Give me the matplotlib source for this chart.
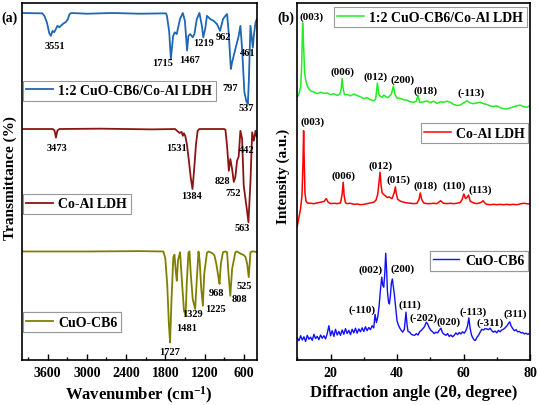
import matplotlib
matplotlib.use("Agg")
import matplotlib.pyplot as plt
from matplotlib.ticker import MultipleLocator

plt.rcParams["font.family"] = ["Liberation Serif", "DejaVu Serif"]
plt.rcParams["font.weight"] = "bold"
plt.rcParams["axes.labelweight"] = "bold"
plt.rcParams["mathtext.fontset"] = "custom"
plt.rcParams["mathtext.rm"] = "Liberation Serif:bold"
plt.rcParams["mathtext.bf"] = "Liberation Serif:bold"
plt.rcParams["mathtext.default"] = "rm"

# ── (a) FTIR spectra (stacked, transmittance in %) ───────────────────
hyb_wn = [4000, 3680, 3650, 3610, 3575, 3551, 3525, 3500, 3450, 3420, 3370,
          3320, 3290, 3265, 3235, 3000, 2600, 2200, 1790, 1775, 1740, 1715,
          1680, 1655, 1625, 1575, 1532, 1500, 1467, 1446, 1420, 1380, 1355,
          1318, 1278, 1240, 1219, 1190, 1163, 1112, 1060, 1010, 962, 917,
          881, 855, 830, 797, 778, 728, 677, 651, 624, 590, 560, 537, 522,
          497, 461, 446, 420, 400]
hyb_t = [97.2, 97.1, 96.4, 94.5, 91.5, 90.8, 92.2, 91.8, 93.6, 93.2, 94.1,
         94.7, 95.5, 96.9, 97.2, 97.0, 97.2, 97.0, 97.1, 96.4, 91.9, 84.3,
         90.8, 91.8, 91.3, 95.5, 97.2, 95.0, 86.7, 90.8, 91.3, 90.4, 91.3,
         95.5, 97.2, 93.6, 90.4, 92.7, 96.4, 95.5, 95.0, 94.1, 92.2, 95.5,
         96.4, 96.9, 91.8, 81.5, 83.4, 87.1, 90.8, 93.6, 87.0, 75.0, 72.5,
         71.7, 78.0, 93.6, 87.5, 90.8, 94.5, 95.5]

ldh_wn = [4000, 3520, 3495, 3473, 3450, 3420, 2800, 2000, 1650, 1620, 1580,
          1550, 1531, 1515, 1495, 1470, 1440, 1410, 1384, 1360, 1330, 1305,
          1280, 900, 880, 855, 828, 805, 778, 752, 728, 702, 677, 651, 625,
          600, 558, 528, 497, 471, 446, 420, 400]
ldh_t = [64.7, 64.7, 64.3, 62.3, 64.3, 64.7, 64.8, 64.6, 64.7, 64.2, 63.6,
         63.9, 62.8, 63.5, 62.8, 60.5, 56.0, 51.0, 47.9, 53.0, 60.5, 64.2,
         64.7, 64.7, 64.5, 60.0, 53.0, 56.3, 53.5, 49.9, 51.3, 55.8, 57.0,
         64.2, 62.0, 48.8, 43.0, 38.6, 50.0, 63.8, 61.4, 64.2, 62.5]

cuo_wn = [4000, 3000, 2200, 1830, 1800, 1770, 1745, 1727, 1705, 1677, 1660,
          1640, 1624, 1605, 1574, 1545, 1515, 1490, 1470, 1446, 1430, 1410,
          1380, 1343, 1320, 1292, 1275, 1250, 1225, 1205, 1163, 1140, 1090,
          1050, 1020, 985, 970, 950, 917, 880, 855, 831, 805, 778, 728, 701,
          650, 600, 574, 548, 523, 497, 470, 440, 400]
cuo_t = [30.4, 30.4, 30.5, 30.4, 28.5, 21.0, 10.0, 4.9, 17.0, 28.8, 29.5,
         25.0, 22.2, 28.0, 30.2, 22.0, 14.0, 12.4, 22.0, 30.0, 30.4, 24.0,
         17.0, 14.3, 22.0, 30.4, 28.0, 20.0, 15.2, 24.0, 30.0, 30.4, 30.0,
         29.4, 27.0, 23.0, 21.3, 27.0, 30.2, 30.4, 30.2, 23.6, 18.0, 25.5,
         30.2, 30.4, 29.8, 29.4, 28.9, 27.0, 23.2, 30.2, 30.4, 30.4, 30.2]

# band labels: (text, wavenumber, T)
ftir_labels = [("3551", 3481, 88.2), ("1715", 1840, 83.2), ("1467", 1435, 84.1),
               ("1219", 1215, 89.0), ("962", 917, 90.6), ("461", 538, 86.2),
               ("797", 805, 76.4), ("537", 563, 70.8),
               ("3473", 3455, 59.6), ("1531", 1635, 59.6), ("1384", 1405, 46.0),
               ("828", 932, 50.4), ("752", 769, 47.0), ("442", 548, 58.9),
               ("563", 615, 37.2),
               ("1727", 1728, 2.3), ("1481", 1471, 9.2), ("1329", 1378, 12.9),
               ("1225", 1035, 14.3), ("968", 1009, 19.0), ("808", 661, 17.3),
               ("525", 589, 21.0)]

# ── (b) XRD patterns (stacked, a.u.) ─────────────────────────────────
hyb_2t = [10, 10.5, 11.0, 11.3, 11.6, 11.9, 12.2, 12.5, 13.0, 13.5, 14, 15,
          16, 17, 18, 19, 20, 21, 22, 22.8, 23.2, 23.5, 23.8, 24.2, 25, 26,
          27, 28, 29, 30, 31, 32, 33, 33.6, 34.1, 34.5, 35, 35.5, 36, 36.5,
          37, 37.5, 38.3, 38.9, 39.4, 40, 41, 42, 43, 44, 45, 45.8, 46.3,
          46.8, 48, 49, 50, 51, 52, 53, 54, 55, 56, 57, 58, 59, 60, 61, 62,
          63, 64, 65, 66, 67, 68, 69, 70, 71, 72, 73, 74, 75, 76, 77, 78, 79,
          80]
hyb_i = [73.6, 74.5, 76.5, 82.0, 94.4, 88.0, 80.5, 78.5, 76.8, 75.9, 75.4,
         75.1, 74.6, 75.0, 74.7, 74.8, 74.3, 74.6, 74.1, 74.5, 76.0, 78.9,
         76.0, 74.3, 74.4, 74.0, 74.5, 74.1, 73.7, 73.2, 73.5, 72.9, 72.6,
         73.2, 77.6, 74.5, 73.8, 73.6, 74.2, 73.9, 73.5, 73.7, 74.5, 76.7,
         74.3, 73.4, 73.3, 72.9, 72.8, 72.3, 72.2, 72.5, 74.2, 72.2, 72.3,
         72.6, 72.1, 72.5, 71.9, 72.3, 72.2, 72.5, 72.2, 71.6, 71.3, 71.4,
         72.0, 72.6, 72.0, 71.8, 72.0, 72.2, 71.8, 71.6, 71.2, 71.0, 71.2,
         70.7, 70.4, 70.3, 70.6, 70.9, 71.2, 71.4, 71.0, 70.8, 71.2]

ldh_2t = [10, 10.5, 11, 11.4, 11.7, 11.9, 12.1, 12.3, 12.6, 13, 14, 15, 16,
          17, 18, 18.7, 19.3, 20, 21, 22, 23, 23.5, 23.8, 24.1, 24.5, 25, 26,
          27, 28, 29, 30, 31, 32, 33, 33.7, 34.2, 34.6, 34.9, 35.2, 35.5, 36,
          36.5, 37, 37.6, 38.5, 39.2, 39.5, 39.8, 40.2, 41, 42, 43, 44, 45,
          46, 46.6, 47.0, 47.4, 48, 49, 50, 51, 52, 53.1, 54, 55, 56, 57, 58,
          59, 59.6, 60.1, 60.6, 61.1, 61.5, 62, 63, 64, 65.2, 65.9, 66.5, 67,
          68, 69, 70, 71, 72, 73, 74, 75, 76, 77, 78, 79, 80]
ldh_i = [37.5, 40.0, 42.5, 46.0, 55.0, 64.2, 55.0, 47.0, 44.5, 44.0, 43.9,
         43.8, 44.0, 44.2, 44.4, 45.2, 44.2, 43.8, 43.9, 43.8, 44.0, 46.5,
         49.8, 46.0, 44.0, 43.8, 43.9, 43.6, 43.7, 43.5, 43.6, 43.8, 44.0,
         44.2, 44.8, 46.5, 50.0, 52.6, 49.0, 46.9, 46.3, 46.0, 45.5, 45.7,
         45.2, 47.0, 48.5, 46.5, 45.0, 44.5, 44.2, 44.0, 43.9, 43.8, 43.9,
         45.0, 46.8, 45.0, 44.0, 43.8, 43.8, 43.9, 43.8, 44.6, 43.9, 43.8,
         43.9, 43.8, 43.9, 44.1, 45.0, 46.5, 45.2, 45.6, 46.2, 44.5, 44.0,
         43.8, 44.1, 44.6, 43.9, 43.6, 43.5, 43.6, 43.5, 43.6, 43.5, 43.6,
         43.5, 43.6, 43.5, 43.7, 43.9, 43.8, 43.7]

cuo_2t = [10.0, 10.5, 11.0, 11.5, 12.0, 12.5, 13.0, 13.5, 14.0, 14.5, 15.0,
          15.5, 16.0, 16.5, 17.0, 17.5, 18.0, 18.5, 19.0, 19.5, 20.0, 20.5,
          21.0, 21.5, 22.0, 22.5, 23.0, 23.5, 24.0, 24.5, 25.0, 25.5, 26.0,
          26.5, 27.0, 27.5, 28.0, 28.5, 29.0, 29.5, 30.0, 30.5, 31.0, 31.5,
          32.0, 32.5, 33.0, 33.4, 33.8, 34.2, 34.6, 35.0, 35.4, 35.7, 36.0,
          36.3, 36.6, 36.9, 37.1, 37.4, 37.7, 38.0, 38.3, 38.6, 38.9, 39.2,
          39.6, 40.0, 40.4, 40.8, 41.2, 41.7, 42.2, 42.5, 42.7, 43.0, 43.3,
          43.8, 44.3, 44.8, 45.3, 45.8, 46.3, 46.8, 47.3, 47.8, 48.3, 48.8,
          49.2, 49.7, 50.2, 50.7, 51.2, 51.7, 52.2, 52.7, 53.2, 53.7, 54.2,
          54.7, 55.2, 55.7, 56.2, 56.7, 57.2, 57.7, 58.2, 58.7, 59.2, 59.7,
          60.2, 60.7, 61.2, 61.6, 62.0, 62.4, 62.8, 63.2, 63.6, 64.0, 64.5,
          65.0, 65.5, 66.0, 66.5, 67.0, 67.5, 68.0, 68.5, 69.0, 69.5, 70.0,
          70.5, 71.0, 71.5, 72.0, 72.5, 73.0, 73.5, 73.9, 74.3, 74.8, 75.3,
          75.8, 76.3, 76.8, 77.3, 77.8, 78.3, 78.8, 79.3, 79.8]
cuo_i = [6.2, 5.4, 6.8, 5.6, 6.5, 5.2, 6.9, 5.8, 6.4, 5.5, 7.2,
         6.0, 6.6, 5.7, 7.0, 6.1, 6.8, 5.9, 7.4, 9.6, 6.8, 8.2,
         6.6, 8.6, 7.0, 8.0, 6.9, 8.4, 7.2, 8.8, 7.4, 8.3, 7.1,
         8.6, 7.6, 8.9, 7.5, 8.7, 7.9, 9.0, 8.0, 9.3, 8.2, 9.1,
         8.5, 9.6, 9.0, 12.8, 10.5, 12.0, 15.0, 19.5, 23.2, 21.0, 20.4,
         24.0, 29.9, 24.5, 19.4, 16.5, 15.7, 18.0, 21.5, 22.7, 20.5, 18.3,
         14.5, 11.0, 9.8, 9.0, 8.4, 7.8, 8.6, 11.5, 13.4, 10.0, 8.0,
         7.8, 7.2, 7.0, 6.9, 7.4, 7.0, 7.9, 8.3, 8.8, 9.4, 10.6,
         10.1, 9.0, 8.3, 7.9, 7.4, 7.8, 7.6, 8.3, 8.9, 7.6, 7.2,
         6.9, 7.4, 6.6, 7.0, 6.5, 6.9, 7.6, 7.1, 7.7, 7.3, 7.9,
         7.5, 8.2, 9.5, 11.8, 8.8, 7.0, 6.2, 5.6, 5.5, 6.3, 6.9,
         7.8, 8.6, 8.4, 8.8, 8.7, 8.5, 8.9, 8.2, 7.8, 8.1, 7.6,
         8.3, 7.9, 8.4, 8.6, 9.0, 9.5, 10.2, 10.7, 9.6, 8.8, 8.2,
         8.5, 7.9, 8.0, 7.6, 7.7, 7.3, 7.5, 7.2, 7.4]

# reflection labels: (text, 2theta, I)
xrd_labels = [("(003)", 14.4, 96.3), ("(006)", 23.5, 81.0), ("(012)", 33.4, 79.5),
              ("(200)", 41.7, 78.7), ("(018)", 48.7, 75.7), ("(-113)", 62.4, 75.0),
              ("(003)", 14.7, 66.9), ("(006)", 24.0, 51.9), ("(012)", 34.9, 54.7),
              ("(015)", 40.4, 50.7), ("(018)", 48.5, 49.0), ("(110)", 57.1, 49.0),
              ("(113)", 64.9, 47.9),
              ("(-110)", 29.6, 14.3), ("(002)", 32.1, 25.5), ("(200)", 41.7, 25.8),
              ("(111)", 44.0, 15.7), ("(-202)", 48.0, 12.1), ("(020)", 55.6, 11.0),
              ("(-113)", 62.8, 13.8), ("(-311)", 67.9, 10.6), ("(311)", 75.5, 13.1)]

# ── Figure ───────────────────────────────────────────────────────────
fig = plt.figure(figsize=(5.39, 4.06), dpi=100)
ax1 = fig.add_axes([21.5 / 539, 45 / 406, 235.3 / 539, 357 / 406])
ax2 = fig.add_axes([297.3 / 539, 45 / 406, 232.7 / 539, 357 / 406])


def box_legend(ax, line, label, loc, anchor):
    leg = ax.legend([line], [label], loc=loc, bbox_to_anchor=anchor,
                    fancybox=False, edgecolor="#999999", framealpha=1,
                    fontsize=10, borderpad=0.25, handlelength=1.9,
                    handletextpad=0.4, borderaxespad=0)
    leg.get_frame().set_linewidth(0.8)
    ax.add_artist(leg)


def style(ax):
    ax.set_yticks([])
    for s in ax.spines.values():
        s.set_linewidth(1.2)
    ax.tick_params(axis="x", which="both", direction="in", width=1,
                   labelsize=10, pad=4)
    ax.tick_params(axis="x", which="major", length=4)
    ax.tick_params(axis="x", which="minor", length=2.5)
    ax.set_ylim(0, 100)


# (a) FTIR
l1, = ax1.plot(hyb_wn, hyb_t, color="#1f66b5", lw=1.3)
l2, = ax1.plot(ldh_wn, ldh_t, color="#8b1414", lw=1.3)
l3, = ax1.plot(cuo_wn, cuo_t, color="#808000", lw=1.3)
for txt, x, y in ftir_labels:
    ax1.text(x, y, txt, fontsize=7.5, ha="center", va="center")
ax1.set_xlim(4000, 400)
ax1.xaxis.set_major_locator(MultipleLocator(600))
ax1.xaxis.set_minor_locator(MultipleLocator(300))
style(ax1)
ax1.set_xlabel("Wavenumber (cm$^{-1}$)", fontsize=12)
ax1.xaxis.set_label_coords(0.5, -0.068)
ax1.set_ylabel("Transmittance (%)", fontsize=11)
ax1.yaxis.set_label_coords(-0.02, 0.513)
box_legend(ax1, l1, "1:2 CuO-CB6/Co-Al LDH", "upper left", (0.006, 0.782))
box_legend(ax1, l2, "Co-Al LDH", "upper left", (0.006, 0.465))
box_legend(ax1, l3, "CuO-CB6", "upper left", (0.006, 0.134))

# (b) XRD
g1, = ax2.plot(hyb_2t, hyb_i, color="#22ee22", lw=1.1)
g2, = ax2.plot(ldh_2t, ldh_i, color="#ff0000", lw=1.1)
g3, = ax2.plot(cuo_2t, cuo_i, color="#1010ff", lw=1.0)
for txt, x, y in xrd_labels:
    ax2.text(x, y, txt, fontsize=8, ha="center", va="center")
ax2.set_xlim(10, 80)
ax2.xaxis.set_major_locator(MultipleLocator(20))
ax2.xaxis.set_minor_locator(MultipleLocator(10))
style(ax2)
ax2.set_xlabel("Diffraction angle (2θ, degree)", fontsize=12)
ax2.xaxis.set_label_coords(0.5, -0.068)
ax2.set_ylabel("Intensity (a.u.)", fontsize=11)
ax2.yaxis.set_label_coords(-0.031, 0.516)
box_legend(ax2, g1, "1:2 CuO-CB6/Co-Al LDH", "upper right", (0.986, 0.988))
box_legend(ax2, g2, "Co-Al LDH", "upper right", (0.993, 0.663))
box_legend(ax2, g3, "CuO-CB6", "upper right", (0.990, 0.306))

fig.text(10 / 539, 1 - 18 / 406, "(a)", fontsize=10, ha="center", va="center")
fig.text(286 / 539, 1 - 18 / 406, "(b)", fontsize=10, ha="center", va="center")

fig.savefig("out.png", dpi=100, facecolor="white")
